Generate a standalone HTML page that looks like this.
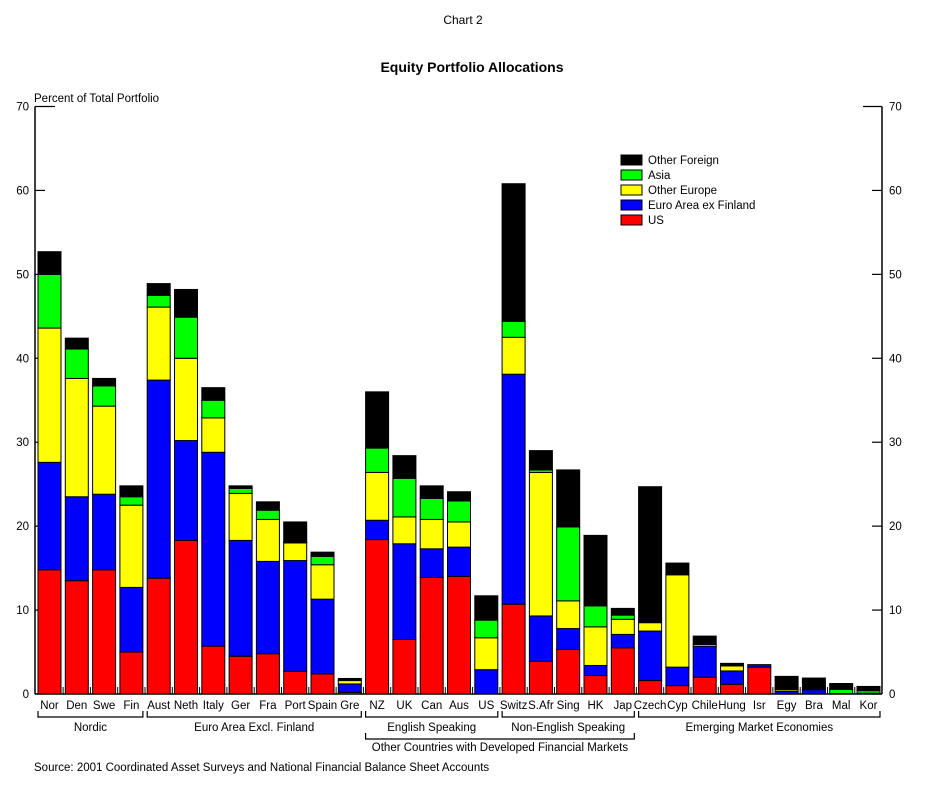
<!DOCTYPE html>
<html><head><meta charset="utf-8"><style>
body{margin:0;background:#fff;}
svg text{font-family:"Liberation Sans",Arial,sans-serif;fill:#000;}
</style></head><body>
<svg id="chart" width="926" height="782" viewBox="0 0 926 782" xmlns="http://www.w3.org/2000/svg">
<rect width="926" height="782" fill="#fff"/>
<text x="463" y="24" font-size="12" text-anchor="middle">Chart 2</text>
<text x="472" y="72" font-size="14" font-weight="bold" text-anchor="middle">Equity Portfolio Allocations</text>
<text x="34" y="102" font-size="11.5">Percent of Total Portfolio</text>
<g id="axes"></g>
<g id="bars"></g>
<g id="labels"></g>
<g id="legend"></g>
<text x="34" y="771" font-size="11.5">Source:  2001 Coordinated Asset Surveys and National Financial Balance Sheet Accounts</text>
</svg>
<script>
const countries=["Nor","Den","Swe","Fin","Aust","Neth","Italy","Ger","Fra","Port","Spain","Gre","NZ","UK","Can","Aus","US","Switz","S.Afr","Sing","HK","Jap","Czech","Cyp","Chile","Hung","Isr","Egy","Bra","Mal","Kor"];
const usVals=[14.8,13.5,14.8,5,13.8,18.3,5.7,4.5,4.8,2.7,2.4,0.2,18.4,6.5,13.9,14,0,10.7,3.9,5.3,2.2,5.5,1.6,1,2,1.15,3.2,0,0,0.05,0.1];
const euroVals=[12.8,10,9,7.7,23.6,11.9,23.1,13.8,11,13.2,8.9,1,2.3,11.4,3.4,3.5,2.9,27.4,5.4,2.5,1.2,1.6,5.9,2.2,3.7,1.6,0.3,0.3,0.5,0,0];
const otherEuropeVals=[16,14.1,10.5,9.8,8.7,9.8,4.1,5.6,5,2.1,4.1,0.4,5.7,3.2,3.5,3,3.8,4.4,17.1,3.3,4.6,1.8,1,11,0.2,0.6,0,0.2,0,0,0];
const asiaVals=[6.4,3.5,2.4,1,1.4,4.9,2.1,0.6,1.1,0.1,1,0.05,2.9,4.6,2.5,2.5,2.1,1.9,0.3,8.8,2.5,0.5,0,0,0,0,0,0,0,0.5,0.3];
const otherForeignVals=[2.7,1.3,0.9,1.3,1.4,3.3,1.5,0.3,1,2.4,0.5,0.2,6.7,2.7,1.5,1.1,2.9,16.4,2.3,6.8,8.4,0.8,16.2,1.4,1,0.3,0,1.6,1.4,0.7,0.5];
const yTicks=[0,10,20,30,40,50,60,70];
const seriesNames=["Other Foreign","Asia","Other Europe","Euro Area ex Finland","US"];
const groups=[{n:"Nordic",a:0,b:3},{n:"Euro Area Excl. Finland",a:4,b:11},{n:"English Speaking",a:12,b:16},{n:"Non-English Speaking",a:17,b:21},{n:"Emerging Market Economies",a:22,b:30}];

const NS="http://www.w3.org/2000/svg";
const X0=35,X1=882,Y0=694,Y70=106.5;
const y=v=>Y0-(v/70)*(Y0-Y70);
const pitch=27.3,bw=23,firstX=38;
const xb=i=>firstX+i*pitch;
function mk(tag,attrs,parent){const e=document.createElementNS(NS,tag);for(const k in attrs)e.setAttribute(k,attrs[k]);parent.appendChild(e);return e;}
const axes=document.getElementById('axes'),bars=document.getElementById('bars'),labels=document.getElementById('labels'),legend=document.getElementById('legend');

let l=mk('line',{x1:X0,y1:Y70,x2:X0,y2:Y0,stroke:'#000','stroke-width':1.5},axes);


l=mk('line',{x1:X1,y1:Y70,x2:X1,y2:Y0,stroke:'#000','stroke-width':1.5},axes);


l=mk('line',{x1:X0,y1:Y0,x2:X1,y2:Y0,stroke:'#000','stroke-width':1.5},axes);


yTicks.forEach(t=>{
  const yy=y(t);
  const top=t===70;
  let a=mk('line',{x1:X0,y1:yy,x2:X0+(top?20:10),y2:yy,stroke:'#000','stroke-width':1.2},axes);
  
  
  a=mk('line',{x1:X1,y1:yy,x2:X1-(top?19:10),y2:yy,stroke:'#000','stroke-width':1.2},axes);
  
  
  let tx=mk('text',{x:29,y:yy+4,'font-size':11.5,'text-anchor':'end'},axes);tx.textContent=t;
  
  
  tx=mk('text',{x:889,y:yy+4,'font-size':11.5},axes);tx.textContent=t;
  
  
});
for(let i=1;i<countries.length;i++){
  const sx=xb(i)-2.2;
  const s=mk('line',{x1:sx,y1:Y0-7,x2:sx,y2:Y0,stroke:'#000','stroke-width':1},axes);
  
  
}
const stack=[[usVals,'#ff0000','us'],[euroVals,'#0000ff','euro-area'],[otherEuropeVals,'#ffff00','other-europe'],[asiaVals,'#00ff00','asia'],[otherForeignVals,'#000000','other-foreign']];
countries.forEach((c,i)=>{
  let cum=0;
  stack.forEach(([arr,col,nm])=>{
    const v=arr[i];
    if(v>0){
      const r=mk('rect',{x:xb(i),y:y(cum+v),width:bw,height:y(cum)-y(cum+v),fill:col,stroke:'#000','stroke-width':1},bars);
      
      
    }
    cum+=v;
  });
  const t=mk('text',{x:xb(i)+bw/2,y:709,'font-size':11.5,'text-anchor':'middle'},labels);t.textContent=c;
  
  
});
function bracket(a,b,yy,h,txt,ty){
  const x1=xb(a),x2=xb(b)+bw;
  const p=mk('path',{d:`M${x1},${yy-h}V${yy}H${x2}V${yy-h}`,fill:'none',stroke:'#000','stroke-width':1.2},labels);
  
  
  const t=mk('text',{x:(x1+x2)/2,y:ty,'font-size':11.5,'text-anchor':'middle'},labels);t.textContent=txt;
  
  
}
groups.forEach(g=>bracket(g.a,g.b,717,6,g.n,731));
bracket(12,21,739,6,"Other Countries with Developed Financial Markets",751);
const legCols=['#000000','#00ff00','#ffff00','#0000ff','#ff0000'];
seriesNames.forEach((n,k)=>{
  const yy=155+k*15;
  const r=mk('rect',{x:621,y:yy,width:21,height:10,fill:legCols[k],stroke:'#000','stroke-width':1},legend);
  
  
  const t=mk('text',{x:648,y:yy+9,'font-size':11.5},legend);t.textContent=n;
  
  
});
</script>
</body></html>
